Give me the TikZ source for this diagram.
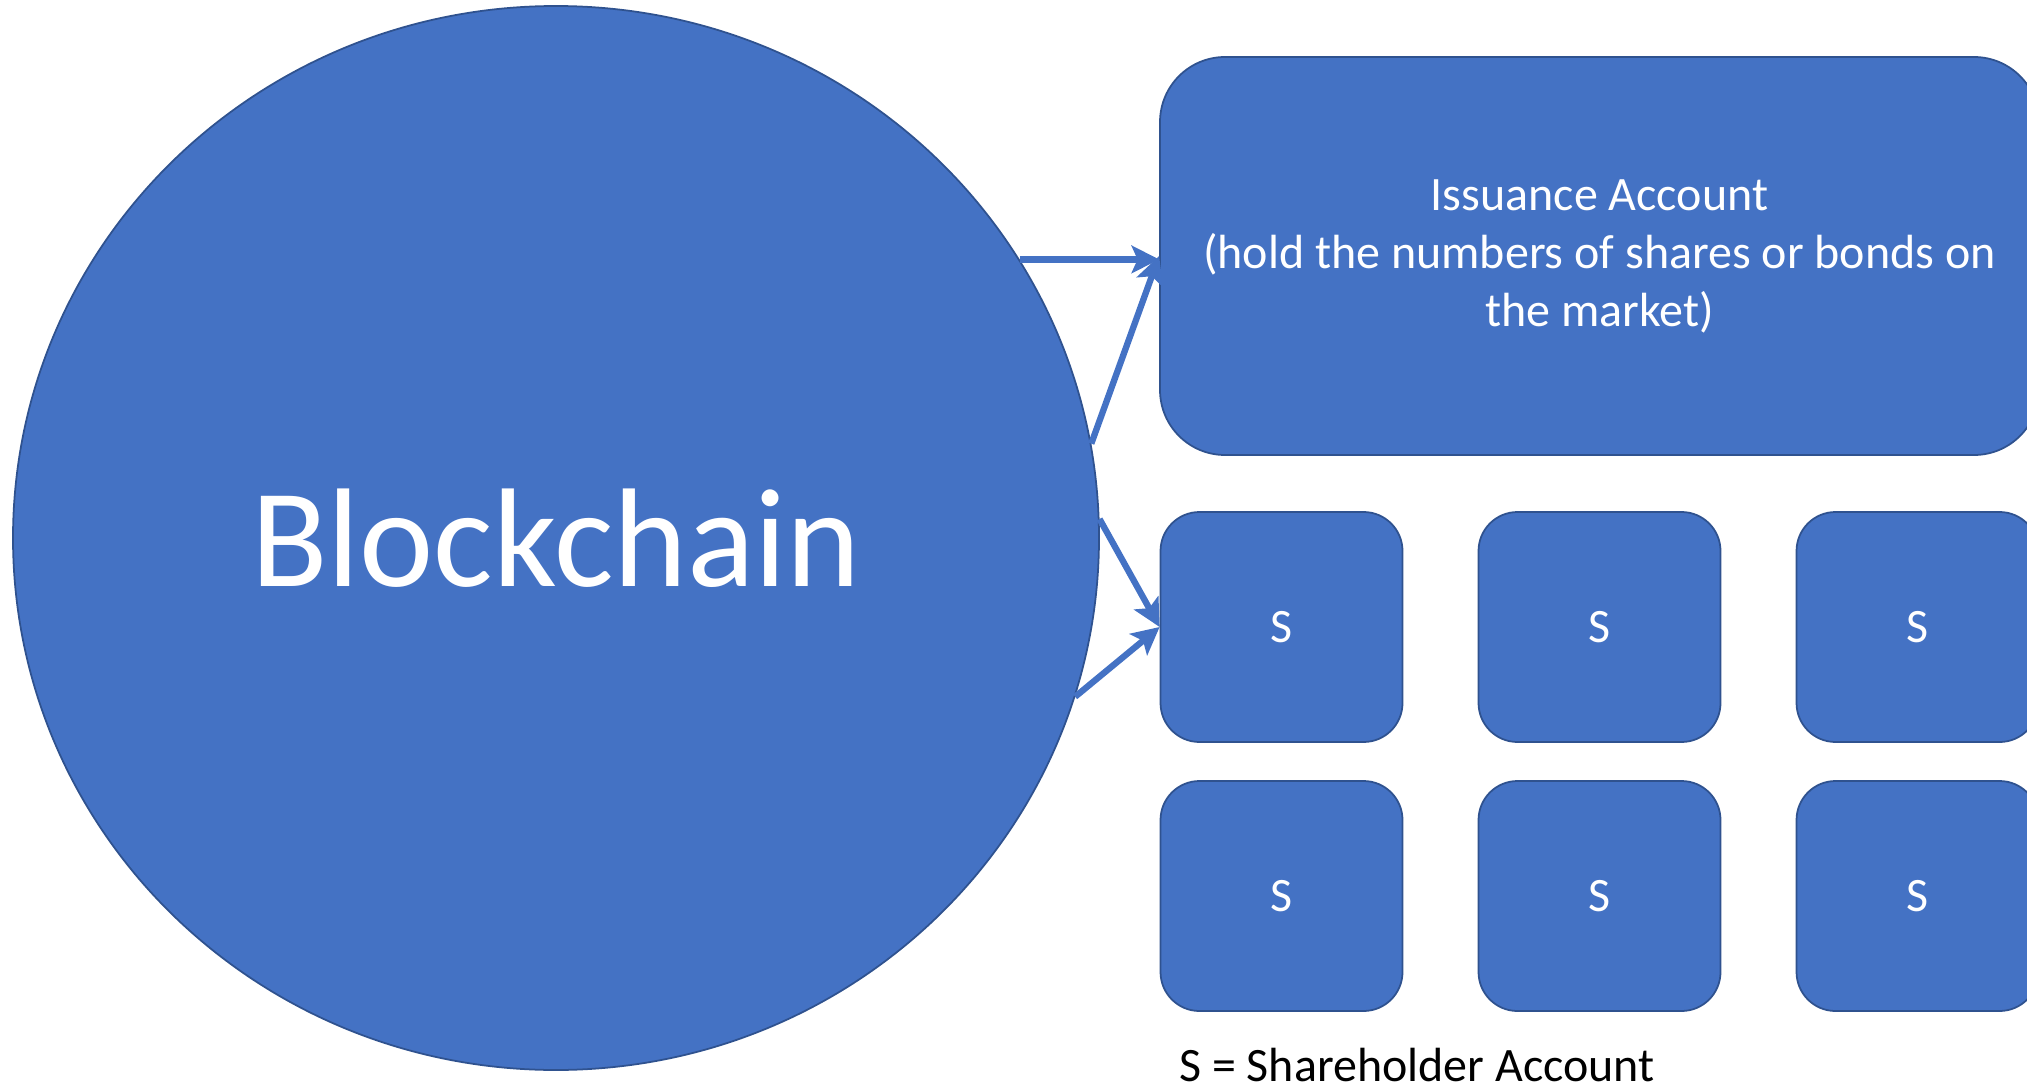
\documentclass[tikz,border=0pt]{standalone}
\usepackage{fontspec}
\setmainfont{Carlito}
\usepackage{tikz}
\usetikzlibrary{shapes,arrows.meta}
\definecolor{acctblue}{HTML}{4472C4}
\definecolor{acctedge}{HTML}{2F528F}
\tikzstyle{chainnode} = [ellipse, draw=acctedge, fill=acctblue, line width=1pt,
    text=white, font=\fontsize{80}{96}\selectfont, inner sep=0pt]
\tikzstyle{account} = [rectangle, draw=acctedge, fill=acctblue, line width=1pt,
    text=white, font=\fontsize{27.3}{33}\selectfont, align=center, rounded corners=1.3cm]
\tikzstyle{share} = [rectangle, draw=acctedge, fill=acctblue, line width=1pt,
    text=white, font=\fontsize{27.3}{33}\selectfont, rounded corners=0.78cm,
    minimum width=4.84cm, minimum height=4.6cm, inner sep=0pt]
\tikzstyle{link} = [draw, color=acctblue, line width=3.6pt,
    -{Stealth[length=0.55cm, width=0.55cm, inset=0.12cm]}]
\begin{document}
\begin{tikzpicture}
      \clip (0,0) rectangle (40.54,-21.8);
      \node [chainnode, minimum width=21.72cm, minimum height=21.28cm] (chain) at (11.12,-10.76)
         {Blockchain};
      \node [account, minimum width=17.58cm, minimum height=7.96cm] (issue) at (31.99,-5.12)
         {Issuance Account\\(hold the numbers of shares or bonds on\\the market)};
      \node [share, below of=issue, node distance=7.42cm] (s12) {S};
      \node [share, left of=s12, node distance=6.36cm] (s11) {S};
      \node [share, right of=s12, node distance=6.36cm] (s13) {S};
      \node [share, below of=s12, node distance=5.38cm] (s22) {S};
      \node [share, left of=s22, node distance=6.36cm] (s21) {S};
      \node [share, right of=s22, node distance=6.36cm] (s23) {S};
      \node [anchor=base west, inner sep=0pt, font=\fontsize{27.3}{33}\selectfont] (key)
         at (23.58,-21.62) {S = Shareholder Account};

      \path [link] (chain.31.4) -- (chain.31.4 -| issue.west);
      \path [link] (chain.10.4) -- (issue.west);
      \path [link] (chain.2.2) -- (s11.west);
      \path [link] (chain.-17.6) -- (s11.west);
   \end{tikzpicture}
\end{document}
